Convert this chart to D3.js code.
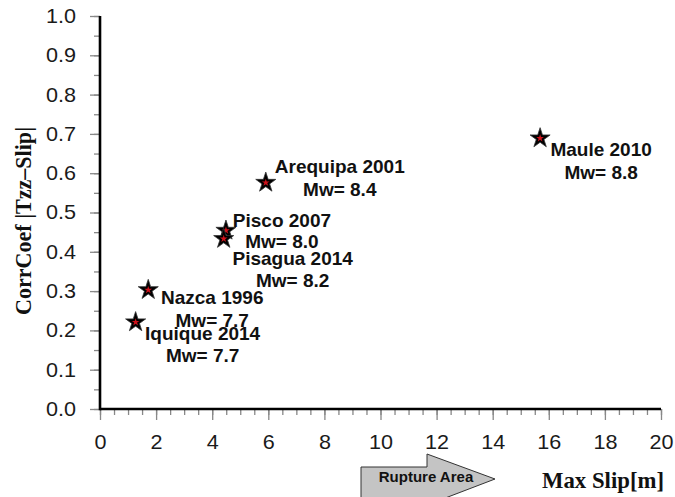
<!DOCTYPE html>
<html>
<head>
<meta charset="utf-8">
<script src="https://cdn.jsdelivr.net/npm/d3@7"></script>
<style>
  body { margin: 0; background: #fff; }
  svg { display: block; }
  .tick text { font-family: "Liberation Sans", Arial, sans-serif; font-size: 20px; fill: #1a1a1a; }
  .tick line { stroke: #888; stroke-width: 1.3; }
  .label { font-family: "Liberation Sans", Arial, sans-serif; font-weight: bold; font-size: 19px; fill: #111; }
  .title { font-family: "Liberation Serif", "Times New Roman", serif; font-weight: bold; fill: #111; }
</style>
</head>
<body>
<script>
// earthquake events
var events = ["Pisco 2007", "Iquique 2014", "Nazca 1996", "Pisagua 2014", "Arequipa 2001", "Maule 2010"];
var magnitudes = [8.0, 7.7, 7.7, 8.2, 8.4, 8.8];
var maxSlip = [4.49, 1.27, 1.72, 4.41, 5.91, 15.69];
var corrCoef = [0.454, 0.221, 0.303, 0.433, 0.576, 0.689];

var xTicks = [0, 2, 4, 6, 8, 10, 12, 14, 16, 18, 20];
var yTicks = [0.0, 0.1, 0.2, 0.3, 0.4, 0.5, 0.6, 0.7, 0.8, 0.9, 1.0];

// where each label sits relative to its star (px)
var labelOffset = {
  "Iquique 2014": [67, 11, 33],
  "Nazca 1996": [64, 7, 30],
  "Pisco 2007": [56, -10, 11],
  "Pisagua 2014": [69, 19, 41],
  "Arequipa 2001": [74, -16, 7],
  "Maule 2010": [61, 11, 34]
};

var margin = {top: 16, right: 14, bottom: 88, left: 100},
    width = 675 - margin.left - margin.right,
    height = 497 - margin.top - margin.bottom;

var x = d3.scaleLinear().domain([0, 20]).range([0, width]),
    y = d3.scaleLinear().domain([0, 1]).range([height, 0]);

var data = events.map(function(e, i) {
  return {name: e, mw: magnitudes[i], slip: maxSlip[i], cc: corrCoef[i]};
});

var svg = d3.select("body").append("svg")
    .attr("width", 675)
    .attr("height", 497)
  .append("g")
    .attr("transform", "translate(" + margin.left + "," + margin.top + ")");

// minor ticks
svg.append("g")
    .attr("transform", "translate(0," + height + ")")
    .call(d3.axisBottom(x).tickValues(d3.range(0, 20.01, 0.5)).tickSize(6).tickFormat(""))
    .call(function(g) { g.select(".domain").remove(); });
svg.append("g")
    .call(d3.axisLeft(y).tickValues(d3.range(0, 1.001, 0.05)).tickSize(6).tickFormat(""))
    .call(function(g) { g.select(".domain").remove(); });

// major ticks
var xAxis = svg.append("g")
    .attr("transform", "translate(0," + height + ")")
    .call(d3.axisBottom(x).tickValues(xTicks).tickSize(11).tickFormat(d3.format("d")));
xAxis.select(".domain").remove();
xAxis.selectAll(".tick text").attr("transform", "scale(1.08,1)").attr("dy", "0.71em").attr("y", 26);

var yAxis = svg.append("g")
    .call(d3.axisLeft(y).tickValues(yTicks).tickSize(10).tickFormat(d3.format(".1f")));
yAxis.select(".domain").remove();
yAxis.selectAll(".tick text").attr("x", -24 / 1.08).attr("transform", "scale(1.08,1)");

// axis lines
svg.append("line").attr("x1", 0).attr("x2", width).attr("y1", height).attr("y2", height)
    .style("stroke", "#000").style("stroke-width", 2.6);
svg.append("line").attr("x1", 0).attr("x2", 0).attr("y1", 0).attr("y2", height + 1.3)
    .style("stroke", "#000").style("stroke-width", 2.6);

// stars
var star = d3.symbol().type(d3.symbolStar);
var pts = svg.selectAll(".pt")
    .data(data)
  .enter().append("g")
    .attr("class", "pt")
    .attr("transform", function(d) { return "translate(" + x(d.slip) + "," + y(d.cc) + ")"; });
pts.append("path")
    .attr("d", star.size(125))
    .style("fill", "#000")
    .style("stroke", "#333")
    .style("stroke-width", 0.8);
pts.append("path")
    .attr("d", star.size(18))
    .style("fill", "#d0121b");

// labels
var labels = svg.selectAll(".lab")
    .data(data)
  .enter().append("g")
    .attr("class", "lab")
    .attr("transform", function(d) { return "translate(" + x(d.slip) + "," + y(d.cc) + ")"; });
labels.append("text")
    .attr("class", "label")
    .attr("text-anchor", "middle")
    .attr("x", function(d) { return labelOffset[d.name][0]; })
    .attr("y", function(d) { return labelOffset[d.name][1]; })
    .attr("dy", "0.36em")
    .text(function(d) { return d.name; });
labels.append("text")
    .attr("class", "label")
    .attr("text-anchor", "middle")
    .attr("x", function(d) { return labelOffset[d.name][0]; })
    .attr("y", function(d) { return labelOffset[d.name][2]; })
    .attr("dy", "0.36em")
    .text(function(d) { return "Mw= " + d.mw.toFixed(1); });

// y title
svg.append("text")
    .attr("class", "title")
    .attr("transform", "translate(-69," + (221 - margin.top) + ") rotate(-90)")
    .attr("text-anchor", "middle")
    .attr("font-size", 23)
    .attr("textLength", 188)
    .attr("lengthAdjust", "spacingAndGlyphs")
    .text("CorrCoef |Tzz\u2013Slip|");

// x title
svg.append("text")
    .attr("class", "title")
    .attr("x", 603 - margin.left)
    .attr("y", 488 - margin.top)
    .attr("text-anchor", "middle")
    .attr("font-size", 23)
    .attr("textLength", 122)
    .attr("lengthAdjust", "spacingAndGlyphs")
    .text("Max Slip[m]");

// rupture area arrow
var arrow = [[361, 467], [427, 467], [427, 454], [495, 479], [427, 505], [427, 500], [361, 500]];
svg.append("path")
    .attr("transform", "translate(" + (-margin.left) + "," + (-margin.top) + ")")
    .attr("d", d3.line()(arrow) + "Z")
    .style("fill", "#c4c4c4")
    .style("stroke", "#333")
    .style("stroke-width", 1);
svg.append("text")
    .attr("x", 426 - margin.left)
    .attr("y", 477 - margin.top)
    .attr("dy", "0.35em")
    .attr("text-anchor", "middle")
    .style("font-family", "'Liberation Sans', Arial, sans-serif")
    .style("font-weight", "bold")
    .style("font-size", "15px")
    .style("fill", "#111")
    .text("Rupture Area");
</script>
</body>
</html>
